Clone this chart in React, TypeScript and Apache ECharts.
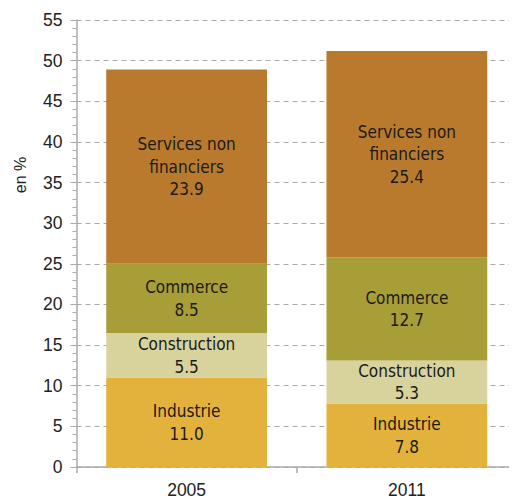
import React, { useEffect, useRef } from "react";
import * as echarts from "echarts";

const categories = ["2005", "2011"];
const seriesNames = ["Industrie", "Construction", "Commerce", "Services non financiers"];
const seriesLabels = ["Industrie", "Construction", "Commerce", "Services non\nfinanciers"];
const industrie = [11.0, 7.8];
const construction = [5.5, 5.3];
const commerce = [8.5, 12.7];
const services = [23.9, 25.4];
const colors = ["#E3B23D", "#D8D29C", "#A89E37", "#B97A2E"];

export default function App() {
  const ref = useRef<HTMLDivElement>(null);
  useEffect(() => {
    if (!ref.current) return;
    const chart = echarts.init(ref.current, undefined, { renderer: "svg" });
    const data = [industrie, construction, commerce, services];
    chart.setOption({
      animation: false,
      grid: { left: 68.5, top: 12, width: 447, bottom: 32, containLabel: false },
      xAxis: {
        type: "category",
        data: categories,
        axisLine: { lineStyle: { color: "#aaaaaa", width: 1.5 } },
        axisTick: { show: true, length: 6, lineStyle: { color: "#aaaaaa", width: 1.5 } },
        axisLabel: { fontSize: 17.5, color: "#222", margin: 14, fontFamily: "Liberation Sans, Arial, sans-serif" },
      },
      yAxis: {
        type: "value",
        min: 0,
        max: 55,
        interval: 5,
        axisLine: { show: true, lineStyle: { color: "#aaaaaa", width: 1.5 } },
        axisTick: { show: true, length: 6, lineStyle: { color: "#aaaaaa", width: 1 } },
        minorTick: { show: true, splitNumber: 5, length: 4, lineStyle: { color: "#aaaaaa", width: 1 } },
        splitLine: { show: true, lineStyle: { color: "#aaaaaa", type: [5, 4], width: 1 } },
        axisLabel: { fontSize: 17.5, color: "#222", margin: 14, fontFamily: "Liberation Sans, Arial, sans-serif" },
      },
      graphic: [
        {
          type: "text",
          x: 12,
          y: 167,
          rotation: Math.PI / 2,
          style: {
            text: "en %",
            fontSize: 16,
            fill: "#222",
            align: "center",
            verticalAlign: "middle",
            fontFamily: "Liberation Sans, Arial, sans-serif",
          },
        },
      ],
      series: seriesNames.map((name, i) => ({
        name,
        type: "bar",
        stack: "total",
        barCategoryGap: "27%",
        data: data[i],
        itemStyle: { color: colors[i] },
        z: 1,
        label: {
          show: true,
          position: "inside",
          color: "#1a1a1a",
          fontSize: 17,
          lineHeight: 22.5,
          fontFamily: "Liberation Sans Narrow, DejaVu Sans Condensed, sans-serif",
          formatter: (p: any) => `${seriesLabels[i]}\n${Number(p.value).toFixed(1)}`,
        },
      })),
    });
    return () => chart.dispose();
  }, []);
  return <div ref={ref} style={{ width: 509, height: 491 }} />;
}
